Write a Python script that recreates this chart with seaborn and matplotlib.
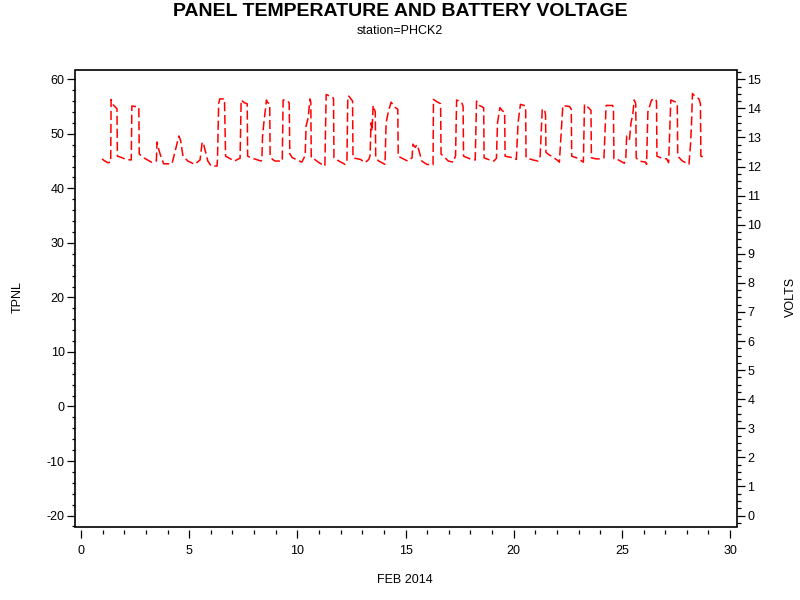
import matplotlib
matplotlib.use('Agg')
import matplotlib.pyplot as plt
import seaborn as sns
from matplotlib.ticker import MultipleLocator
from matplotlib.patches import Rectangle

# panel temperature readings, FEB 2014 (day of month, deg)
day = [0.97, 1.10, 1.24, 1.37, 1.39, 1.46, 1.66, 1.68, 1.84, 2.08,
       2.32, 2.35, 2.50, 2.62, 2.67, 2.69, 2.90, 3.25,
       3.48, 3.51, 3.60, 3.71, 3.82, 4.20,
       4.33, 4.52, 4.60, 4.71, 4.94, 5.25,
       5.50, 5.60, 5.67, 5.86, 6.01, 6.29,
       6.31, 6.36, 6.41, 6.63, 6.65, 6.68, 7.09, 7.28,
       7.35, 7.40, 7.55, 7.68, 7.70, 7.86, 8.32,
       8.36, 8.39, 8.45, 8.57, 8.60, 8.72, 8.74, 8.85, 8.97,
       9.30, 9.34, 9.47, 9.62, 9.65, 9.77, 9.89, 10.20,
       10.36, 10.40, 10.50, 10.58, 10.62, 10.64, 10.77, 11.00,
       11.27, 11.33, 11.58, 11.67, 11.69, 11.92, 12.20,
       12.29, 12.33, 12.38, 12.55, 12.57, 12.92, 13.12,
       13.30, 13.36, 13.40, 13.45, 13.50, 13.60, 13.62, 13.76,
       14.05, 14.10, 14.20, 14.33, 14.53, 14.64, 14.66, 14.80, 15.10,
       15.30, 15.34, 15.45, 15.52, 15.60, 15.75, 15.98, 16.27,
       16.29, 16.40, 16.62, 16.64, 16.98, 17.21,
       17.31, 17.36, 17.59, 17.66, 17.68, 17.98,
       18.22, 18.28, 18.41, 18.61, 18.63, 18.82, 19.08,
       19.20, 19.25, 19.36, 19.48, 19.58, 19.60, 19.71, 20.00,
       20.12, 20.20, 20.31, 20.48, 20.55, 20.57, 20.89, 21.12,
       21.22, 21.32, 21.43, 21.47, 21.49, 21.58, 21.74, 22.00,
       22.11, 22.27, 22.58, 22.66, 22.68, 22.96,
       23.22, 23.27, 23.45, 23.57, 23.59, 23.81, 24.04,
       24.17, 24.27, 24.57, 24.61, 24.63, 24.80, 25.11,
       25.18, 25.22, 25.35, 25.42, 25.50, 25.57, 25.64, 25.66, 25.80, 26.10,
       26.14, 26.20, 26.37, 26.57, 26.60, 26.62, 26.80, 27.07,
       27.16, 27.26, 27.50, 27.56, 27.58, 27.80, 28.10,
       28.17, 28.22, 28.26, 28.35, 28.56, 28.63, 28.65, 28.79]

tpnl = [45.4, 45.0, 44.7, 44.8, 56.3, 55.4, 54.6, 45.9, 45.7, 45.3,
        45.2, 55.1, 55.0, 55.0, 54.8, 46.3, 45.6, 44.8,
        45.0, 48.5, 47.0, 45.6, 44.5, 44.5,
        46.5, 49.6, 48.8, 45.9, 45.0, 44.4,
        45.2, 48.5, 48.0, 45.0, 44.1, 44.1,
        46.0, 55.5, 56.4, 56.4, 52.0, 45.9, 45.0, 45.4,
        45.5, 56.2, 55.7, 55.5, 45.9, 45.6, 45.0,
        45.5, 49.6, 52.0, 56.2, 55.8, 55.5, 45.9, 45.3, 45.0,
        45.0, 56.2, 56.2, 55.7, 46.3, 45.6, 45.4, 44.8,
        46.0, 51.4, 53.0, 56.4, 55.8, 45.6, 45.4, 44.7,
        44.1, 57.2, 56.8, 56.5, 45.6, 45.0, 44.4,
        45.0, 56.9, 56.9, 56.0, 45.6, 45.3, 44.7,
        45.3, 46.0, 52.0, 50.5, 55.2, 54.0, 45.6, 45.0,
        44.4, 52.0, 54.0, 55.8, 54.8, 54.5, 45.9, 45.6, 45.0,
        45.6, 48.1, 47.5, 48.0, 47.2, 45.0, 44.4, 44.3,
        56.3, 56.0, 55.5, 46.3, 45.0, 44.8,
        46.0, 56.2, 55.8, 55.0, 45.9, 45.4,
        45.2, 56.0, 55.2, 54.8, 45.6, 45.3, 45.0,
        45.5, 52.0, 54.8, 54.2, 54.0, 45.9, 45.8, 45.6,
        45.3, 52.0, 55.4, 55.2, 55.0, 45.6, 45.2, 45.0,
        45.9, 54.6, 54.2, 53.5, 46.6, 46.3, 45.9, 45.2,
        44.8, 55.2, 55.0, 54.5, 45.9, 45.5,
        44.8, 55.4, 54.8, 54.3, 45.6, 45.4, 45.4,
        45.6, 55.2, 55.2, 54.5, 45.4, 45.3, 44.6,
        45.5, 49.6, 49.0, 52.0, 53.5, 56.2, 55.5, 45.6, 45.0, 44.8,
        44.4, 54.0, 56.2, 56.4, 55.8, 45.9, 45.6, 45.4,
        44.7, 56.2, 55.8, 55.5, 45.9, 45.0, 44.4,
        48.0, 52.0, 57.4, 57.0, 56.4, 55.5, 45.9, 45.7]

tpnl_ticks = [-20, -10, 0, 10, 20, 30, 40, 50, 60]
volts_ticks = list(range(0, 16))
day_ticks = [0, 5, 10, 15, 20, 25, 30]

sns.set_style('ticks')
plt.rcParams['font.family'] = ['Liberation Sans', 'DejaVu Sans']
plt.rcParams['axes.unicode_minus'] = False
plt.rcParams['text.color'] = 'black'
plt.rcParams['xtick.color'] = 'black'
plt.rcParams['ytick.color'] = 'black'
plt.rcParams['axes.labelcolor'] = 'black'

fig = plt.figure(figsize=(8, 6), dpi=100)
ax = fig.add_axes([75/800, 1 - 527/600, 662/800, 457/600])

sns.lineplot(x=day, y=tpnl, ax=ax, color='#ff0000', linewidth=1.1,
             estimator=None, sort=False)
for ln in ax.get_lines():
    ln.set_linestyle((0, (6, 2.5)))

ymin, ymax = -22.1, 61.7
ax.set_xlim(-0.28, 30.32)
ax.set_ylim(ymin, ymax)
ax.set_xticks(day_ticks)
ax.set_yticks(tpnl_ticks)
ax.xaxis.set_minor_locator(MultipleLocator(1))
ax.yaxis.set_minor_locator(MultipleLocator(2))

ax2 = ax.twinx()
ax2.set_ylim((ymin + 20) * 15 / 80, (ymax + 20) * 15 / 80)
ax2.set_yticks(volts_ticks)
ax2.yaxis.set_minor_locator(MultipleLocator(0.25))

for a in (ax, ax2):
    for s in a.spines.values():
        s.set_visible(False)
ax.spines['bottom'].set_position(('outward', 2))

ax.add_patch(Rectangle((0, 0), 1, 1, transform=ax.transAxes, fill=False,
                       edgecolor='black', linewidth=1.2, clip_on=False, zorder=5))

ax.tick_params(axis='x', which='major', direction='out', length=6, width=0.9,
               labelsize=9, pad=5, color='black', labelcolor='black')
ax.tick_params(axis='x', which='minor', direction='out', length=3, width=0.9,
               color='black')
ax.tick_params(axis='y', which='major', direction='out', length=5.5, width=0.9,
               labelsize=9, pad=2, color='black', labelcolor='black')
ax.tick_params(axis='y', which='minor', direction='out', length=2.5, width=0.9,
               color='black')
ax2.tick_params(axis='y', which='major', direction='out', length=5.5, width=0.9,
                labelsize=9, pad=2, color='black', labelcolor='black')
ax2.tick_params(axis='y', which='minor', direction='out', length=3, width=0.9,
                color='black')

ax.set_xlabel('')
ax.set_ylabel('')
fig.text(405/800, 1 - 580/600, 'FEB 2014', ha='center', va='center', fontsize=9)
fig.text(18/800, 1 - 297/600, 'TPNL', ha='center', va='center', rotation=90, fontsize=9)
fig.text(791/800, 1 - 297/600, 'VOLTS', ha='center', va='center', rotation=90, fontsize=9)

fig.text(400/800, 1 - 11/600, 'PANEL TEMPERATURE AND BATTERY VOLTAGE',
         ha='center', va='center', fontsize=14, fontweight='bold')
fig.text(400/800, 1 - 31/600, 'station=PHCK2', ha='center', va='center', fontsize=9)

fig.savefig('out.png', dpi=100)
